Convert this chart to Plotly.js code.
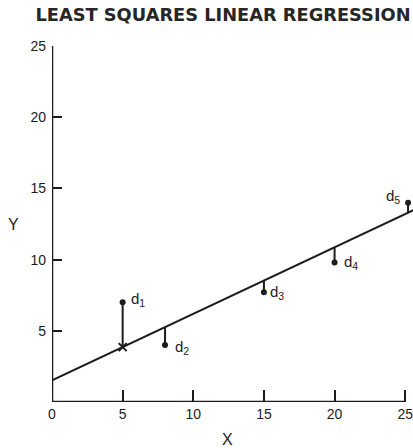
<!DOCTYPE html>
<html>
<head>
<meta charset="utf-8">
<script src="https://cdn.plot.ly/plotly-3.0.1.min.js"></script>
<style>
  html, body { margin: 0; padding: 0; background: #fff; }
  #chart { width: 413px; height: 448px; }
</style>
</head>
<body>
<div id="chart"></div>
<script>
// Observed points
const pointX = [5, 8, 15, 20, 25.2];
const pointY = [7, 4, 7.7, 9.8, 14];
const pointLabels = ['d<sub>1</sub>', 'd<sub>2</sub>', 'd<sub>3</sub>', 'd<sub>4</sub>', 'd<sub>5</sub>'];

// Fitted line y = intercept + slope * x
const intercept = 1.52;
const slope = 0.467;
const lineX = [0, 25.6];

// Axis ticks
const xTicks = [0, 5, 10, 15, 20, 25];
const yTicks = [5, 10, 15, 20, 25];

const ink = '#1c1c1c';
const fit = x => intercept + slope * x;

// Vertical residual segments from each point to the line
const segX = [], segY = [];
pointX.forEach((x, i) => {
  segX.push(x, x, null);
  segY.push(pointY[i], fit(x), null);
});

const traces = [
  {
    x: lineX, y: lineX.map(fit),
    mode: 'lines', line: { color: ink, width: 2 },
    hoverinfo: 'skip', showlegend: false
  },
  {
    x: segX, y: segY,
    mode: 'lines', line: { color: ink, width: 2 },
    hoverinfo: 'skip', showlegend: false
  },
  {
    x: pointX, y: pointY,
    mode: 'markers', marker: { color: ink, size: 6 },
    cliponaxis: false, showlegend: false
  },
  {
    // fitted value of the first point
    x: [pointX[0]], y: [fit(pointX[0])],
    mode: 'markers',
    marker: { symbol: 'x-thin', size: 8, line: { color: ink, width: 2 } },
    showlegend: false
  }
];

// Label placement around each point (pixel offsets)
const labelShift = [
  { xs: 6, ys: 3, anchor: 'left' },
  { xs: 8, ys: -2, anchor: 'left' },
  { xs: 4, ys: 0, anchor: 'left' },
  { xs: 7, ys: 0, anchor: 'left' },
  { xs: -6, ys: 6, anchor: 'right' }
];

const textFamily = 'Liberation Sans, Arial, sans-serif';
const labelFont = { family: textFamily, size: 15, color: ink };
const axisTitleFont = { family: textFamily, size: 16, color: ink };

const annotations = pointX.map((x, i) => ({
  x: x, y: pointY[i], xref: 'x', yref: 'y',
  text: pointLabels[i], showarrow: false,
  xanchor: labelShift[i].anchor, yanchor: 'middle',
  xshift: labelShift[i].xs, yshift: labelShift[i].ys,
  font: labelFont
}));

// Axis titles, both set horizontally
annotations.push(
  { x: 0.4875, y: -0.104, xref: 'paper', yref: 'paper', xanchor: 'center', yanchor: 'middle',
    text: 'X', showarrow: false, font: axisTitleFont },
  { x: -0.108, y: 0.5, xref: 'paper', yref: 'paper', xanchor: 'center', yanchor: 'middle',
    text: 'Y', showarrow: false, font: axisTitleFont }
);

const tickFont = { family: textFamily, size: 14, color: ink };

const layout = {
  width: 413, height: 448,
  margin: { l: 52, r: 0, t: 46, b: 46 },
  paper_bgcolor: '#fff', plot_bgcolor: '#fff',
  title: {
    text: '<b>LEAST SQUARES LINEAR REGRESSION</b>',
    x: 223 / 413, xanchor: 'center', y: 1 - 15 / 448, yanchor: 'middle',
    font: { family: 'DejaVu Sans, sans-serif', size: 17.8, color: '#262626' }
  },
  xaxis: {
    range: [0, 25.55], showgrid: false, zeroline: false, showline: false,
    tickmode: 'array', tickvals: xTicks, ticktext: xTicks.map(String),
    ticks: 'inside', ticklen: 12, tickwidth: 2, tickcolor: ink,
    tickfont: tickFont, ticklabeloverflow: 'allow', ticklabelstandoff: 2,
    fixedrange: true
  },
  yaxis: {
    range: [0, 25], showgrid: false, zeroline: false, showline: false,
    tickmode: 'array', tickvals: yTicks, ticktext: yTicks.map(String),
    ticks: 'inside', ticklen: 10, tickwidth: 2, tickcolor: ink,
    tickfont: tickFont, ticklabelstandoff: 5, fixedrange: true
  },
  shapes: [
    { type: 'line', xref: 'x', yref: 'y', x0: 0, x1: xTicks[xTicks.length - 1], y0: 0, y1: 0,
      line: { color: ink, width: 2.5 } },
    { type: 'line', xref: 'x', yref: 'y', x0: 0, x1: 0, y0: 0, y1: yTicks[yTicks.length - 1],
      line: { color: ink, width: 2.5 } }
  ],
  annotations: annotations,
  showlegend: false
};

Plotly.newPlot('chart', traces, layout, { displayModeBar: false, staticPlot: true });
</script>
</body>
</html>
